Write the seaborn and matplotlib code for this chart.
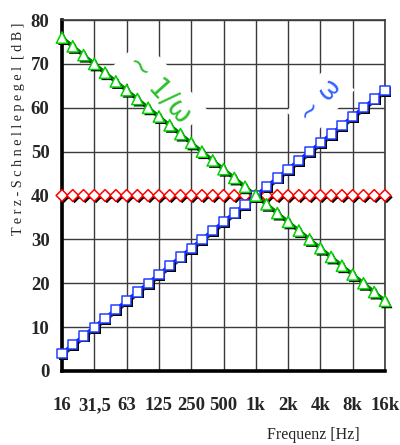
import matplotlib
matplotlib.use("Agg")
import matplotlib.pyplot as plt
import matplotlib.patheffects as pe
import seaborn as sns
import pandas as pd

# Third-octave band centre frequencies (Hz)
bands = ["16", "20", "25", "31,5", "40", "50", "63", "80", "100", "125", "160",
         "200", "250", "315", "400", "500", "630", "800", "1k", "1,25k", "1,6k",
         "2k", "2,5k", "3,15k", "4k", "5k", "6,3k", "8k", "10k", "12,5k", "16k"]

# Velocity level per band [dB]
level_omega = [4, 6, 8, 10, 12, 14, 16, 18, 20, 22, 24, 26, 28, 30, 32, 34,
               36, 38, 40, 42, 44, 46, 48, 50, 52, 54, 56, 58, 60, 62, 64]
level_inv_omega = [76, 74, 72, 70, 68, 66, 64, 62, 60, 58, 56, 54, 52, 50, 48, 46,
                   44, 42, 40, 38, 36, 34, 32, 30, 28, 26, 24, 22, 20, 18, 16]
level_flat = [40, 40, 40, 40, 40, 40, 40, 40, 40, 40, 40, 40, 40, 40, 40, 40,
              40, 40, 40, 40, 40, 40, 40, 40, 40, 40, 40, 40, 40, 40, 40]

octave_labels = ["16", "31,5", "63", "125", "250", "500", "1k", "2k", "4k", "8k", "16k"]
y_ticks = [0, 10, 20, 30, 40, 50, 60, 70, 80]

df = pd.DataFrame({
    "band": list(range(len(bands))),
    "omega": level_omega,
    "inv_omega": level_inv_omega,
    "flat": level_flat,
})

sns.set_style("white")
plt.rcParams["font.family"] = ["Liberation Serif", "DejaVu Serif"]

fig = plt.figure(figsize=(4.0, 4.45), dpi=100)
ax = fig.add_axes([0.155, 0.1663, 0.8075, 0.7887])

line_shadow = [pe.SimpleLineShadow(offset=(0.8, -0.8), shadow_color="black", alpha=0.8),
               pe.Normal()]
marker_shadow = [pe.SimplePatchShadow(offset=(1.3, -1.3), shadow_rgbFace="black", alpha=1.0),
                 pe.Normal()]

series = [
    ("flat", "#ff0000", "#ff0000", "D", 36),
    ("omega", "#0000ff", "#2040ff", "s", 44),
    ("inv_omega", "#008000", "#00d000", "^", 66),
]
for col, lcol, mcol, marker, msize in series:
    ln = sns.lineplot(data=df, x="band", y=col, color=lcol, linewidth=2.6, ax=ax,
                      legend=False, zorder=3)
    ln.lines[-1].set_path_effects(line_shadow)
    sc = sns.scatterplot(data=df, x="band", y=col, marker=marker, s=msize,
                         facecolor="white", edgecolor=mcol, linewidth=1.1,
                         ax=ax, legend=False, zorder=4)
    sc.collections[-1].set_path_effects(marker_shadow)
    sc.collections[-1].set_clip_on(False)

ax.set_xlim(0, len(bands) - 1)
ax.set_ylim(0, 80)
ax.set_xticks(list(range(0, len(bands), 3)))
ax.set_xticklabels(octave_labels)
ax.set_yticks(y_ticks)
ax.set_yticklabels([str(v) for v in y_ticks])
ax.grid(True, color="#3a3a3a", linewidth=1.0, zorder=0)
ax.set_axisbelow(True)

for side in ("left", "bottom"):
    ax.spines[side].set_color("black")
    ax.spines[side].set_linewidth(2.6)
for side in ("top", "right"):
    ax.spines[side].set_color("#3a3a3a")
    ax.spines[side].set_linewidth(1.2)

ax.tick_params(axis="both", length=0, labelsize=13.5)
ax.tick_params(axis="x", pad=19)
ax.tick_params(axis="y", pad=9)
for lbl in ax.get_xticklabels() + ax.get_yticklabels():
    lbl.set_fontweight("bold")

ax.set_xlabel("")
ax.set_ylabel("T e r z - S c h n e l l e p e g e l  [ d B ]", fontsize=10.2,
              labelpad=2)
ax.yaxis.set_label_coords(-0.115, 0.69)

fig.text(0.9, 0.004, "Frequenz [Hz]", fontsize=11.5, ha="right", va="bottom")

# Slope annotations
ax.text(0.303, 0.805, "~ 1/\u03c9", transform=ax.transAxes, rotation=-48,
        fontsize=20, color="#30c030", family="DejaVu Sans", ha="center", va="center",
        rotation_mode="anchor", zorder=2,
        bbox=dict(boxstyle="square,pad=0.25", fc="white", ec="none"))
ax.text(0.80, 0.77, "~ \u03c9", transform=ax.transAxes, rotation=48,
        fontsize=18, color="#3060ff", family="DejaVu Sans", ha="center", va="center",
        rotation_mode="anchor", zorder=2,
        bbox=dict(boxstyle="square,pad=0.25", fc="white", ec="none"))

fig.savefig("out.png", dpi=100)
